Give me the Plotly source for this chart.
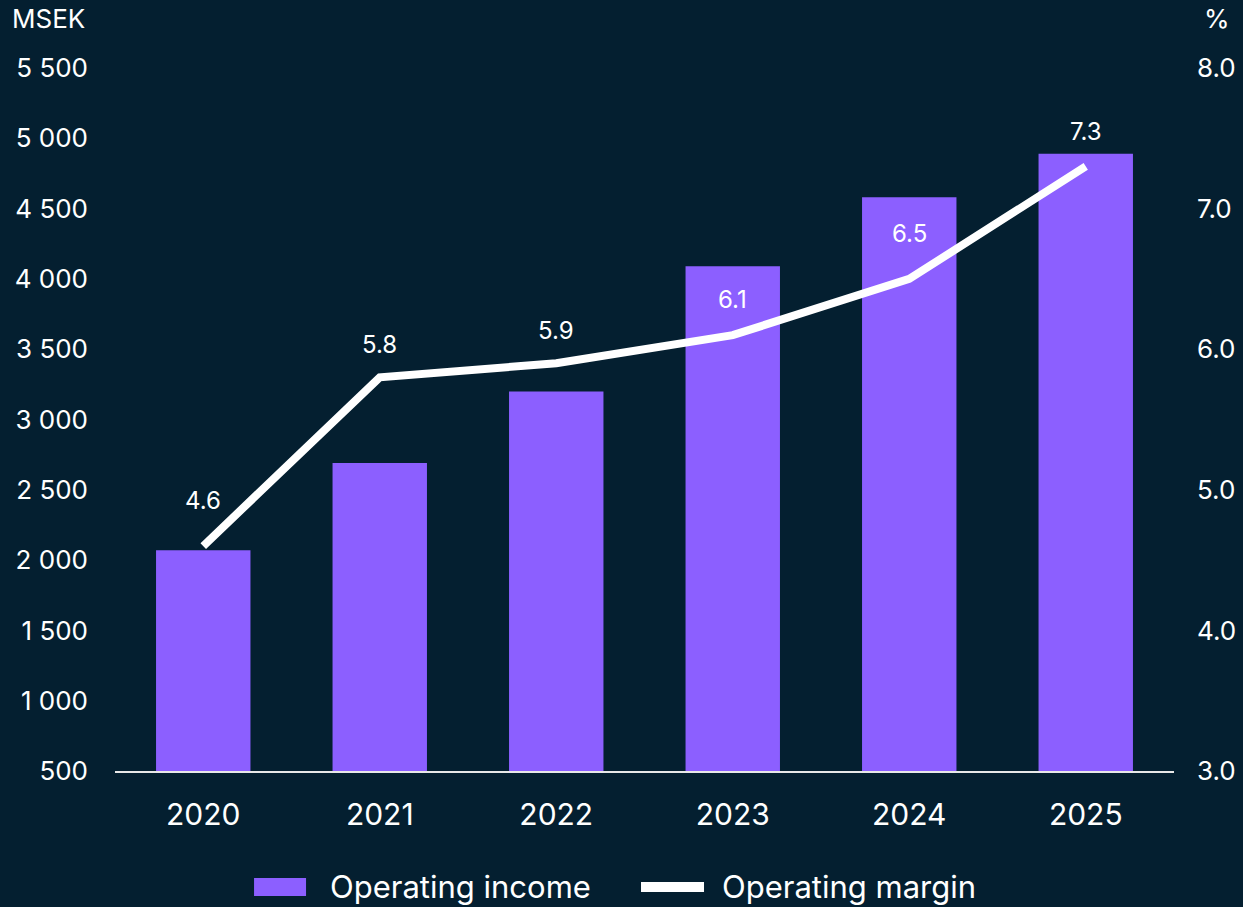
import plotly.graph_objects as go

# Operating income (MSEK) and operating margin (%) per year
years = ["2020", "2021", "2022", "2023", "2024", "2025"]
operating_income = [2070, 2690, 3200, 4090, 4580, 4890]
operating_margin = [4.6, 5.8, 5.9, 6.1, 6.5, 7.3]

income_ticks = [500, 1000, 1500, 2000, 2500, 3000, 3500, 4000, 4500, 5000, 5500]
income_tick_labels = ["500", "1 000", "1 500", "2 000", "2 500", "3 000",
                      "3 500", "4 000", "4 500", "5 000", "5 500"]
margin_ticks = [3.0, 4.0, 5.0, 6.0, 7.0, 8.0]
margin_tick_labels = ["3.0", "4.0", "5.0", "6.0", "7.0", "8.0"]

BG = "#041f30"
PURPLE = "#8c5fff"
WHITE = "#ffffff"
FONT = "Inter, Roboto, sans-serif"

# vertical offset (px) of each margin label above its point
label_lift = [46, 33, 33, 36, 45, 35]

fig = go.Figure()

fig.add_trace(go.Bar(
    x=years, y=operating_income, name="Operating income",
    marker=dict(color=PURPLE, line=dict(width=0)),
    yaxis="y", showlegend=False, hoverinfo="skip",
))

fig.add_trace(go.Scatter(
    x=years, y=operating_margin, name="Operating margin",
    mode="lines", line=dict(color=WHITE, width=8),
    yaxis="y2", showlegend=False, hoverinfo="skip",
))

annotations = []
# category positions are referenced by index on a category axis
for i, (m, lift) in enumerate(zip(operating_margin, label_lift)):
    annotations.append(dict(
        x=i, y=m, xref="x", yref="y2", text=f"{m:.1f}",
        showarrow=False, yshift=lift, yanchor="middle",
        font=dict(family=FONT, size=24, color=WHITE),
    ))

# axis unit captions
unit_font = dict(family=FONT, size=26, color=WHITE)
annotations.append(dict(x=-0.0994, y=1.0, xref="paper", yref="paper",
                        text="MSEK", showarrow=False, yshift=50,
                        xanchor="left", yanchor="middle", font=unit_font))
annotations.append(dict(x=1.0264, y=1.0, xref="paper", yref="paper",
                        text="%", showarrow=False, yshift=50,
                        xanchor="left", yanchor="middle", font=unit_font))

# legend drawn below the plot
legend_font = dict(family=FONT, size=31, color=WHITE)
annotations.append(dict(x=0.2011, y=-0.165, xref="paper", yref="paper",
                        text="Operating income", showarrow=False,
                        xanchor="left", yanchor="middle", font=legend_font))
annotations.append(dict(x=0.5713, y=-0.165, xref="paper", yref="paper",
                        text="Operating margin", showarrow=False,
                        xanchor="left", yanchor="middle", font=legend_font))

shapes = [
    dict(type="rect", xref="paper", yref="paper",
         x0=0.1313, x1=0.1804, y0=-0.1778, y1=-0.1522,
         fillcolor=PURPLE, line=dict(width=0)),
    dict(type="rect", xref="paper", yref="paper",
         x0=0.4967, x1=0.5562, y0=-0.1721, y1=-0.1579,
         fillcolor=WHITE, line=dict(width=0)),
]

fig.update_layout(
    width=1243, height=907,
    paper_bgcolor=BG, plot_bgcolor=BG,
    margin=dict(l=115, r=69, t=68, b=136),
    bargap=0.465,
    font=dict(family=FONT, color=WHITE),
    xaxis=dict(
        type="category", range=[-0.5, 5.5], showgrid=False, zeroline=False,
        showline=True, linecolor="#e8e8e8", linewidth=2, automargin=False,
        ticks="", tickfont=dict(family=FONT, size=30, color=WHITE),
        ticklabelstandoff=16,
    ),
    yaxis=dict(
        range=[500, 5500], tickvals=income_ticks, ticktext=income_tick_labels,
        showgrid=False, zeroline=False, showline=False, ticks="",
        automargin=False,
        tickfont=dict(family=FONT, size=26, color=WHITE),
        ticklabelstandoff=26,
    ),
    yaxis2=dict(
        range=[3, 8], tickvals=margin_ticks, ticktext=margin_tick_labels,
        overlaying="y", side="right", automargin=False,
        showgrid=False, zeroline=False, showline=False, ticks="",
        tickfont=dict(family=FONT, size=26, color=WHITE),
        ticklabelstandoff=22,
    ),
    annotations=annotations,
    shapes=shapes,
    showlegend=False,
)

fig.write_html("out.html")
